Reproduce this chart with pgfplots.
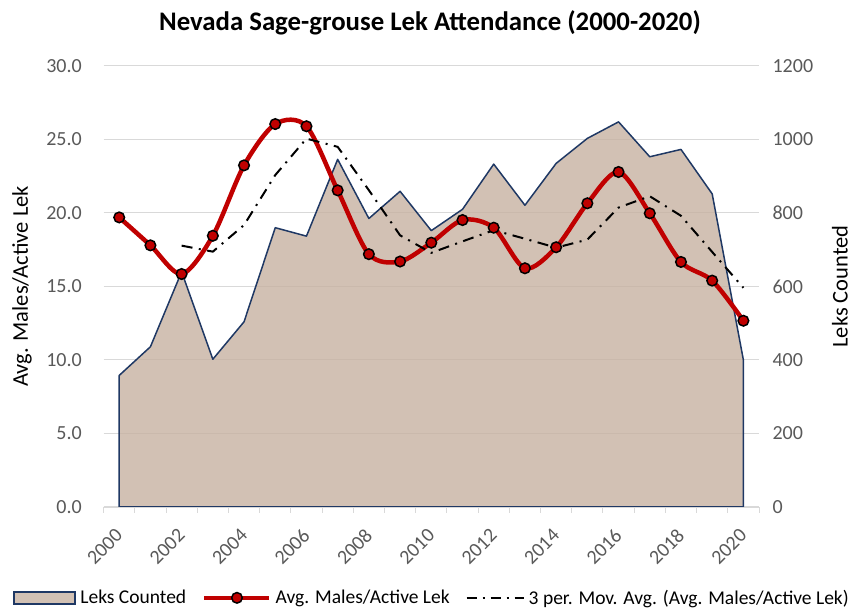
\documentclass[border=0pt]{standalone}
\usepackage{fontspec}
\setmainfont{Carlito}
\usepackage{pgfplots}
\pgfplotsset{compat=1.18}
\definecolor{areafill}{RGB}{199,178,161}
\definecolor{areaedge}{RGB}{31,56,100}
\definecolor{redline}{RGB}{192,0,0}
\definecolor{gridc}{RGB}{217,217,217}
\definecolor{ticktext}{RGB}{89,89,89}
\newcommand\tickfont{\fontsize{20}{24}\selectfont}
\newcommand\labfont{\fontsize{22.5}{27}\selectfont}
\begin{document}
\begin{tikzpicture}[x=1pt,y=1pt]
\path[use as bounding box] (0,0) rectangle (855,610);
\node[anchor=base] at (430,579) {\fontsize{26.8}{32}\selectfont\bfseries Nevada Sage-grouse Lek Attendance (2000-2020)};
% Right axis: area
\begin{axis}[
  at={(103.6pt,103pt)}, anchor=south west,
  scale only axis, width=655.4pt, height=441pt,
  xmin=-0.5, xmax=20.5, ymin=0, ymax=1200,
  axis x line*=bottom, axis y line*=right,
  x axis line style={draw=gridc, line width=1.2pt},
  y axis line style={draw=none},
  xtick={0,2,...,20},
  xticklabels={2000,2002,2004,2006,2008,2010,2012,2014,2016,2018,2020},
  minor xtick={-0.5,0.5,...,20.5},
  major tick length=0pt, minor tick length=6pt, tick align=outside,
  minor x tick style={draw=gridc, line width=1pt},
  ytick={0,200,...,1200},
  ymajorgrids, grid style={gridc, line width=1pt},
  yticklabel style={font=\tickfont, text=ticktext, inner sep=0pt, xshift=13.4pt},
  xticklabel style={font=\tickfont, text=ticktext, inner sep=0pt, xshift=0pt, yshift=-25pt, rotate=45, anchor=east},
  ylabel={Leks Counted},
  every axis y label/.style={at={(axis description cs:1.1236,0.5)}, rotate=90, anchor=center, font=\labfont},
  /pgf/number format/.cd, 1000 sep={}, assume math mode=true
]
\addplot[fill=areafill, fill opacity=0.8, draw=areaedge, line width=1.5pt, line join=round] coordinates {
(0,358) (1,436) (2,640) (3,402) (4,504) (5,760) (6,737) (7,946) (8,785) (9,859) (10,752)
(11,810) (12,933) (13,821) (14,935) (15,1003) (16,1048) (17,953) (18,973) (19,852) (20,400)
} \closedcycle;
\end{axis}
% Left axis: lines
\begin{axis}[
  at={(103.6pt,103pt)}, anchor=south west,
  scale only axis, width=655.4pt, height=441pt,
  xmin=-0.5, xmax=20.5, ymin=0, ymax=30,
  hide x axis,
  axis y line*=left,
  y axis line style={draw=none},
  major tick length=0pt,
  ytick={0,5,...,30},
  yticklabel style={font=\tickfont, text=ticktext, inner sep=0pt, xshift=-21.6pt,
    /pgf/number format/.cd, fixed, fixed zerofill, precision=1, assume math mode=true},
  ylabel={Avg. Males/Active Lek},
  every axis y label/.style={at={(axis description cs:-0.1245,0.5)}, rotate=90, anchor=center, font=\labfont},
  legend style={at={(0.501,-0.206)}, anchor=center, draw=none, font=\fontsize{19.5}{23}\selectfont,
    legend columns=3, /tikz/every even column/.append style={column sep=14pt},
    /tikz/every odd column/.append style={column sep=2pt}},
  clip=false,
]
\addlegendimage{legend image code/.code={\draw[fill=areafill!80!white, draw=areaedge, line width=2.2pt] (0pt,-6pt) rectangle (61pt,6pt);}}
\addlegendentry{Leks Counted}
\addplot[redline, line width=4.5pt, smooth, mark=*, mark size=5.3pt,
  mark options={fill=redline, draw=black, line width=1.5pt},
  legend image code/.code={\draw[redline, line width=4.5pt] (0pt,0pt) -- (65pt,0pt); \draw[fill=redline, draw=black, line width=1.5pt] (32.5pt,0pt) circle (5.3pt);}
] coordinates {
(0,19.7) (1,17.8) (2,15.85) (3,18.45) (4,23.24) (5,26.05) (6,25.9) (7,21.54) (8,17.2) (9,16.7) (10,17.98)
(11,19.52) (12,19.0) (13,16.24) (14,17.67) (15,20.66) (16,22.79) (17,19.98) (18,16.67) (19,15.4) (20,12.67)
};
\addlegendentry{Avg. Males/Active Lek}
\addplot[black, line width=2pt, dash pattern=on 11pt off 6.5pt on 2pt off 6.5pt,
  legend image code/.code={\draw[black, line width=2pt, dash pattern=on 10pt off 6pt on 2pt off 6pt] (0pt,0pt) -- (57pt,0pt);}
] coordinates {
(2,17.78) (3,17.37) (4,19.18) (5,22.58) (6,25.06) (7,24.5) (8,21.55) (9,18.48) (10,17.29)
(11,18.07) (12,18.83) (13,18.25) (14,17.64) (15,18.19) (16,20.37) (17,21.14) (18,19.81) (19,17.35) (20,14.91)
};
\addlegendentry{3 per. Mov. Avg. (Avg. Males/Active Lek)}
\end{axis}
\end{tikzpicture}
\end{document}
